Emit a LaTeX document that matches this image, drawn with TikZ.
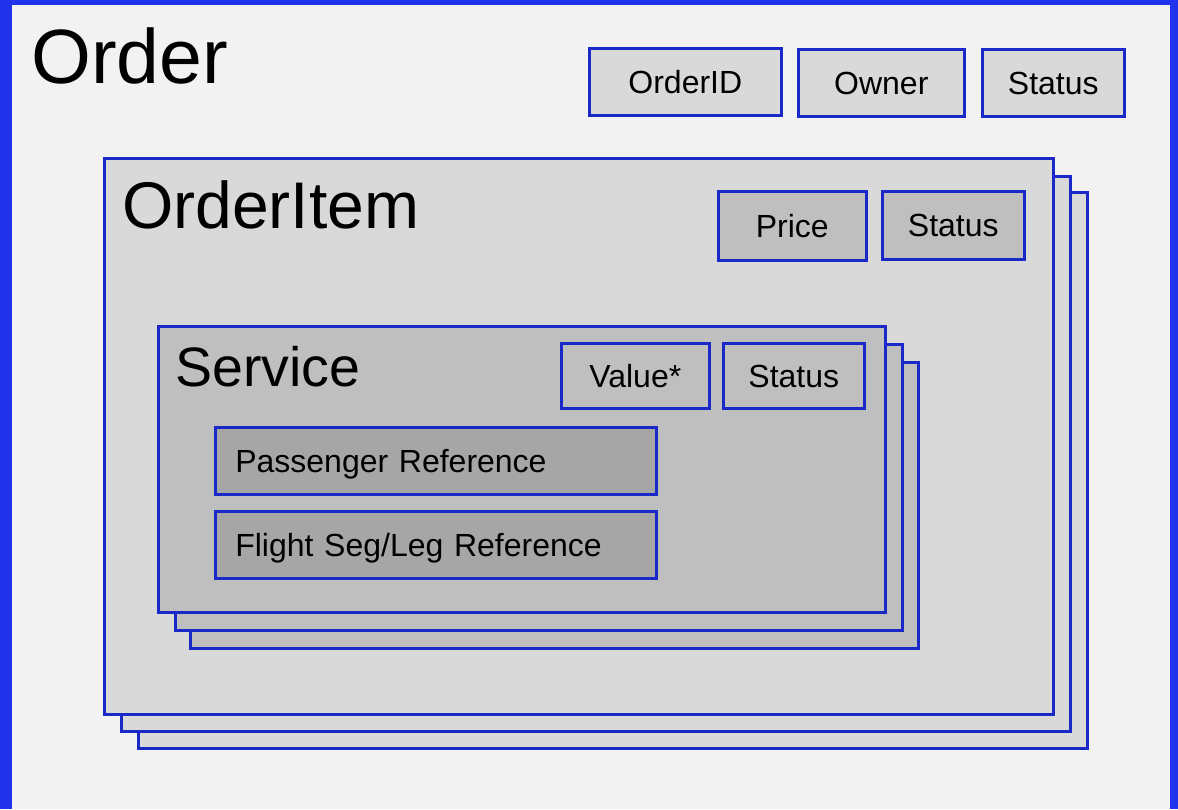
\documentclass[tikz,border=0pt]{standalone}
\usepackage{fontspec}
\setmainfont{Liberation Sans}
\definecolor{bg}{HTML}{F2F2F2}
\definecolor{frame}{HTML}{2233EE}
\definecolor{edge}{HTML}{1A28C8}
\definecolor{g1}{HTML}{D9D9D9}
\definecolor{g2}{HTML}{BFBFBF}
\definecolor{g3}{HTML}{A6A6A6}
\begin{document}
\begin{tikzpicture}[x=1pt,y=-1pt,
  box/.style={draw=edge,line width=2.6pt,anchor=north west,inner sep=0pt,
    font=\fontsize{32}{36}\selectfont,text height=23pt,text depth=0pt},
  panel/.style={draw=edge,line width=2.6pt,anchor=north west,inner sep=0pt},
  title/.style={anchor=base west,inner sep=0pt}
]
\useasboundingbox (0,0) rectangle (1178,809);
\fill[bg] (0,0) rectangle (1178,809);
\fill[frame] (0,0) rectangle (12,809);
\fill[frame] (0,0) rectangle (1178,5);
\fill[frame] (1170,0) rectangle (1178,809);

\node[title,font=\fontsize{77}{80}\selectfont] (order) at (31,83) {Order};
\node[box,fill=g1,minimum width=192pt,minimum height=67pt] (oid) at (588,47) {OrderID};
\node[box,fill=g1,minimum width=166pt,minimum height=67pt] (owner) at (797,48) {Owner};
\node[box,fill=g1,minimum width=142pt,minimum height=67pt] (ostat) at (981,48) {Status};

% OrderItem stack
\node[panel,fill=g1,minimum width=949pt,minimum height=556pt] (oi3) at (137,191) {};
\node[panel,fill=g1,minimum width=949pt,minimum height=555pt] (oi2) at (120,175) {};
\node[panel,fill=g1,minimum width=949pt,minimum height=556pt] (oi1) at (103,157) {};
\node[title,font=\fontsize{66}{70}\selectfont] (oititle) at (122,228) {OrderItem};
\node[box,fill=g2,minimum width=148pt,minimum height=69pt] (price) at (717,190) {Price};
\node[box,fill=g2,minimum width=142pt,minimum height=68pt] (oistat) at (881,190) {Status};

% Service stack
\node[panel,fill=g2,minimum width=728pt,minimum height=286pt] (s3) at (189,361) {};
\node[panel,fill=g2,minimum width=727pt,minimum height=286pt] (s2) at (174,343) {};
\node[panel,fill=g2,minimum width=727pt,minimum height=286pt] (s1) at (157,325) {};
\node[title,font=\fontsize{55.5}{60}\selectfont] (stitle) at (175,386) {Service};
\node[box,fill=g2,minimum width=148pt,minimum height=65pt] (value) at (560,342) {Value*};
\node[box,fill=g2,minimum width=141pt,minimum height=65pt] (sstat) at (722,342) {Status};

\node[box,fill=g3,minimum width=441pt,minimum height=67pt,text width=401pt,align=left] (pax) at (214,426) {Passenger Reference};
\node[box,fill=g3,minimum width=441pt,minimum height=67pt,text width=401pt,align=left] (seg) at (214,510) {Flight Seg/Leg Reference};
\end{tikzpicture}
\end{document}
